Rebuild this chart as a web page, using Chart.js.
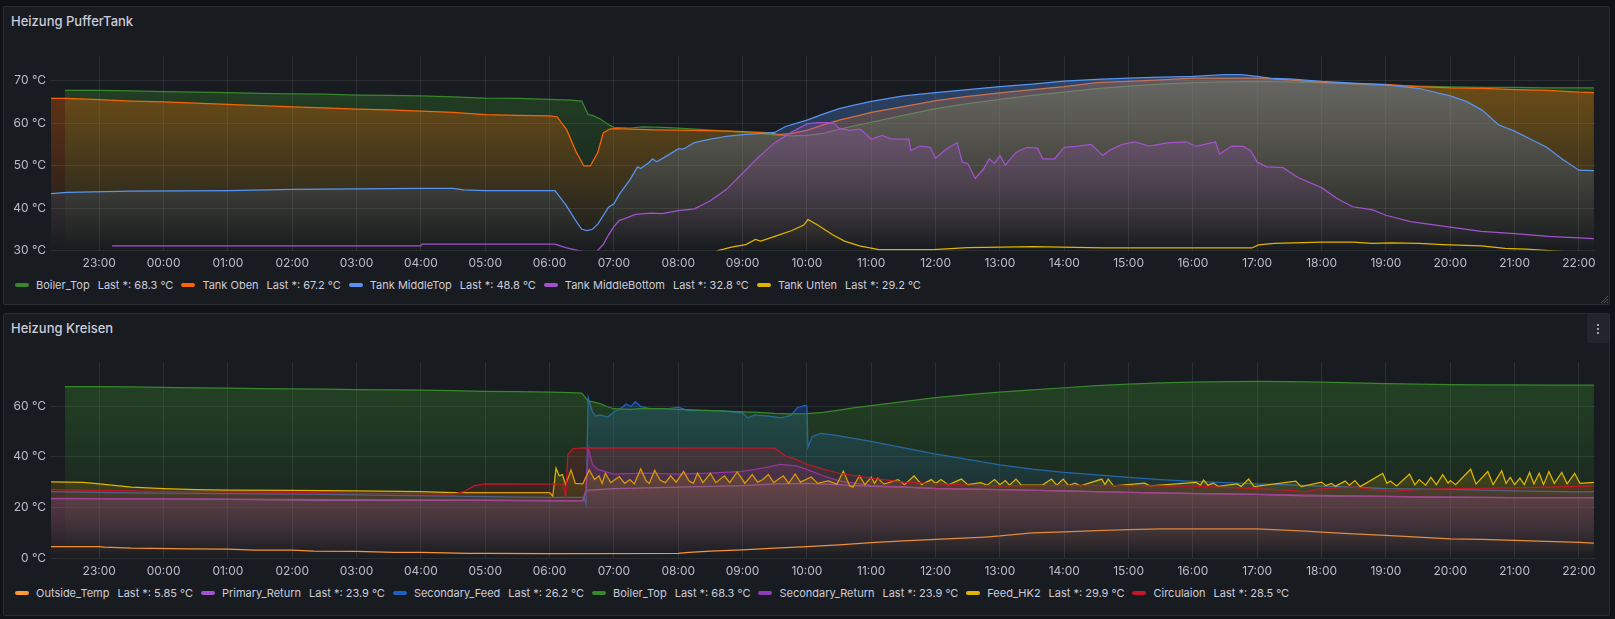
<!DOCTYPE html>
<html>
<head>
<meta charset="utf-8">
<title>Heizung</title>
<script src="https://cdn.jsdelivr.net/npm/chart.js@4.4.1/dist/chart.umd.min.js"></script>
<style>
  html, body { margin: 0; padding: 0; }
  body { width: 1615px; height: 619px; background: #111217; font-family: Inter, "Noto Sans", sans-serif; color: #ccccdc; position: relative; overflow: hidden; }
  .panel { position: absolute; left: 3px; width: 1605px; background: #181b1f; border: 1px solid #2a2c31; border-radius: 2px; }
  #panel1 { top: 6px; height: 297px; }
  #panel2 { top: 313px; height: 301px; }
  .title { position: absolute; left: 7px; top: 2px; font-size: 13px; font-weight: 500; line-height: 24px; }
  canvas { position: absolute; left: 3px; }
  #puffer { top: 44px; }
  #kreisen { top: 350px; }
  .legend { position: absolute; left: 15px; height: 16px; display: flex; align-items: center; font-size: 11px; white-space: nowrap; }
  #legend1 { top: 277px; }
  #legend2 { top: 585px; }
  .item { display: flex; align-items: center; margin-right: 8px; }
  .swatch { width: 14px; height: 4px; border-radius: 2px; margin-right: 7px; }
  .stat { margin-left: 8px; }
  #menu { position: absolute; left: 1587px; top: 314px; width: 22px; height: 29px; background: #22252b; border-radius: 2px; }
  #menu i { position: absolute; left: 10px; width: 2px; height: 2px; background: #9fa1a8; }
</style>
</head>
<body>
<div class="panel" id="panel1"><div class="title">Heizung PufferTank</div></div>
<div class="panel" id="panel2"><div class="title">Heizung Kreisen</div></div>
<canvas id="puffer" width="1607" height="231"></canvas>
<canvas id="kreisen" width="1607" height="233"></canvas>
<div class="legend" id="legend1"></div>
<div class="legend" id="legend2"></div>
<div id="menu"><i style="top:10px"></i><i style="top:14px"></i><i style="top:18px"></i></div>
<svg style="position:absolute;left:1599px;top:294px" width="10" height="10"><path d="M9 2 L2 9 M9 5 L5 9 M9 8 L8 9" stroke="#54575e" stroke-width="1"/></svg>
<script>
// time axis: 22:15 today .. 22:15 tomorrow, in hours
const X_MIN = 22.25;
const X_MAX = 46.25;
const hourTicks = [23, 24, 25, 26, 27, 28, 29, 30, 31, 32, 33, 34, 35, 36, 37, 38, 39, 40, 41, 42, 43, 44, 45, 46];
const hourLabels = ['23:00', '00:00', '01:00', '02:00', '03:00', '04:00', '05:00', '06:00', '07:00', '08:00', '09:00', '10:00',
  '11:00', '12:00', '13:00', '14:00', '15:00', '16:00', '17:00', '18:00', '19:00', '20:00', '21:00', '22:00'];
const pufferTicks = [30, 40, 50, 60, 70];
const kreisenTicks = [0, 20, 40, 60];

// series as [time, °C]
const boilerTop = [['22:28', 67.7], ['23:00', 67.7], ['23:30', 67.6], ['00:00', 67.4], ['00:30', 67.3], ['01:00', 67.2], ['01:30', 67.0],
  ['02:00', 66.9], ['02:30', 66.8], ['03:00', 66.6], ['03:30', 66.5], ['04:00', 66.4], ['04:30', 66.2], ['05:00', 65.9], ['05:30', 65.8],
  ['06:00', 65.6], ['06:20', 65.4], ['06:30', 65.2], ['06:36', 62.0], ['06:40', 61.8], ['06:47', 61.0], ['06:54', 59.8], ['07:00', 59.0],
  ['07:15', 58.8], ['07:27', 59.1], ['07:45', 59.0], ['08:00', 58.8], ['08:20', 58.5], ['08:45', 58.1], ['09:00', 57.8], ['09:15', 57.6],
  ['09:30', 57.2], ['09:45', 57.0], ['10:00', 57.1], ['10:15', 57.6], ['10:30', 58.5], ['10:45', 59.4], ['11:00', 60.2], ['11:30', 61.8],
  ['12:00', 63.4], ['12:30', 64.6], ['13:00', 65.6], ['13:30', 66.5], ['14:00', 67.3], ['14:30', 68.1], ['15:00', 68.7], ['15:30', 69.2],
  ['16:00', 69.5], ['16:30', 69.7], ['17:00', 69.8], ['17:30', 69.7], ['18:00', 69.5], ['18:30', 69.2], ['19:00', 68.9], ['19:30', 68.7],
  ['20:00', 68.5], ['20:30', 68.4], ['21:00', 68.4], ['21:30', 68.3], ['22:00', 68.3], ['22:14', 68.3]];

const tankOben = [['22:15', 65.8], ['22:30', 65.8], ['23:00', 65.5], ['23:30', 65.2], ['00:00', 65.0], ['00:30', 64.7], ['01:00', 64.4],
  ['01:30', 64.1], ['02:00', 63.8], ['02:30', 63.6], ['03:00', 63.3], ['03:30', 63.1], ['04:00', 62.8], ['04:30', 62.5], ['05:00', 62.0],
  ['05:30', 61.8], ['06:00', 61.7], ['06:07', 61.5], ['06:16', 58.4], ['06:25', 53.1], ['06:32', 49.9], ['06:38', 49.9], ['06:45', 53.1],
  ['06:50', 57.7], ['06:56', 58.6], ['07:01', 58.7], ['07:38', 58.4], ['08:14', 58.3], ['08:50', 58.1], ['09:26', 57.7], ['09:33', 57.3],
  ['09:45', 57.5], ['10:00', 58.3], ['10:15', 59.6], ['10:30', 60.7], ['10:45', 61.6], ['11:00', 62.5], ['11:30', 63.9], ['12:00', 65.3],
  ['12:30', 66.3], ['13:00', 67.1], ['13:30', 67.9], ['14:00', 68.6], ['14:30', 69.5], ['15:00', 69.8], ['15:30', 70.2], ['16:00', 70.6],
  ['16:30', 70.6], ['17:00', 70.6], ['17:30', 70.2], ['18:00', 69.6], ['18:30', 69.3], ['19:00', 69.1], ['19:30', 68.6], ['20:00', 68.3],
  ['20:30', 68.2], ['21:00', 67.9], ['21:30', 67.7], ['22:00', 67.3], ['22:14', 67.2]];

const tankMiddleTop = [['22:15', 43.4], ['22:30', 43.7], ['23:30', 44.0], ['01:00', 44.1], ['02:00', 44.4], ['04:00', 44.6], ['04:30', 44.6],
  ['04:40', 44.3], ['05:00', 44.1], ['06:05', 44.1], ['06:15', 40.8], ['06:25', 36.8], ['06:30', 35.0], ['06:35', 34.7], ['06:40', 35.0],
  ['06:45', 36.2], ['06:55', 40.2], ['07:00', 41.0], ['07:05', 43.2], ['07:15', 46.7], ['07:22', 49.7], ['07:25', 49.3], ['07:33', 50.8],
  ['07:36', 51.6], ['07:40', 50.9], ['07:50', 52.4], ['08:00', 53.9], ['08:05', 53.9], ['08:15', 55.4], ['08:30', 56.2], ['08:45', 56.9],
  ['09:00', 57.3], ['09:15', 57.5], ['09:30', 57.8], ['09:40', 59.2], ['10:00', 60.7], ['10:15', 62.1], ['10:30', 63.4], ['10:45', 64.3],
  ['11:00', 65.1], ['11:30', 66.4], ['12:00', 67.2], ['12:30', 67.9], ['13:00', 68.6], ['13:30', 69.2], ['14:00', 69.9], ['14:30', 70.3],
  ['15:00', 70.6], ['15:30', 70.8], ['16:00', 71.0], ['16:30', 71.4], ['16:45', 71.4], ['17:00', 71.0], ['17:15', 70.5], ['17:30', 70.4],
  ['18:00', 69.8], ['18:30', 69.4], ['19:00', 69.0], ['19:30', 68.2], ['20:00', 66.4], ['20:15', 65.1], ['20:30', 63.0], ['20:45', 59.6],
  ['21:00', 58.1], ['21:15', 56.2], ['21:30', 54.3], ['21:45', 51.4], ['22:00', 48.9], ['22:14', 48.8]];

const tankMiddleBottom = [['23:12', 31.1], ['04:00', 31.1], ['04:01', 31.5], ['06:05', 31.5], ['06:15', 30.7], ['06:25', 30.1],
  ['06:32', 29.7], ['06:44', 29.8], ['06:50', 31.4], ['06:55', 33.7], ['07:00', 35.6], ['07:05', 37.1], ['07:10', 37.5], ['07:20', 38.5],
  ['07:35', 38.8], ['07:45', 38.7], ['08:00', 39.4], ['08:15', 39.8], ['08:30', 41.7], ['08:45', 44.4], ['09:00', 48.2], ['09:15', 52.0],
  ['09:30', 55.4], ['09:45', 57.8], ['10:00', 59.8], ['10:10', 60.1], ['10:20', 60.1], ['10:25', 60.0], ['10:30', 58.8], ['10:40', 58.3],
  ['10:50', 58.6], ['11:00', 56.2], ['11:10', 57.1], ['11:20', 56.2], ['11:35', 56.2], ['11:37', 53.5], ['11:45', 54.6], ['11:55', 54.3],
  ['12:00', 51.7], ['12:10', 53.9], ['12:20', 55.4], ['12:25', 50.8], ['12:30', 50.5], ['12:37', 47.0], ['12:45', 49.3], ['12:50', 51.6],
  ['12:55', 50.5], ['13:00', 52.4], ['13:05', 50.1], ['13:15', 53.1], ['13:25', 54.3], ['13:35', 54.1], ['13:40', 51.6], ['13:51', 51.6],
  ['14:00', 54.3], ['14:13', 54.6], ['14:25', 55.0], ['14:36', 52.4], ['14:43', 53.7], ['14:54', 55.0], ['15:06', 55.6], ['15:19', 54.6],
  ['15:38', 55.4], ['15:54', 55.6], ['16:03', 54.5], ['16:21', 55.6], ['16:25', 52.7], ['16:36', 54.6], ['16:47', 54.5], ['16:54', 53.5],
  ['17:00', 50.8], ['17:09', 49.7], ['17:24', 49.5], ['17:38', 47.2], ['18:00', 44.8], ['18:14', 42.3], ['18:29', 40.3], ['18:47', 39.6],
  ['19:00', 38.3], ['19:23', 36.8], ['20:00', 35.5], ['20:29', 34.5], ['21:00', 34.0], ['21:32', 33.3], ['22:00', 33.0], ['22:14', 32.8]];

const tankUnten = [['22:15', 28.0], ['08:30', 28.5], ['08:37', 30.0], ['08:45', 30.5], ['08:52', 30.9], ['09:03', 31.4], ['09:12', 32.6],
  ['09:17', 32.2], ['09:32', 33.5], ['09:46', 34.7], ['09:57', 36.0], ['10:01', 37.3], ['10:10', 36.0], ['10:24', 33.7], ['10:35', 32.2],
  ['10:49', 31.1], ['11:07', 30.2], ['11:58', 30.2], ['12:30', 30.7], ['13:31', 30.9], ['14:37', 30.6], ['16:55', 30.6], ['17:01', 31.3],
  ['17:16', 31.7], ['18:00', 32.0], ['18:29', 32.0], ['18:47', 31.7], ['19:05', 31.8], ['19:31', 31.7], ['19:53', 31.4], ['20:29', 31.1],
  ['20:51', 30.5], ['21:11', 30.3], ['21:32', 30.0], ['22:14', 29.2]];

const outsideTemp = [['22:15', 4.5], ['23:00', 4.5], ['23:05', 4.3], ['23:30', 3.9], ['00:25', 3.6], ['01:00', 3.5], ['01:25', 3.1],
  ['02:00', 3.1], ['02:20', 2.7], ['03:00', 2.6], ['03:35', 2.2], ['04:00', 2.2], ['04:45', 1.8], ['05:00', 1.8], ['06:00', 1.7],
  ['08:00', 1.8], ['08:10', 2.2], ['08:30', 2.7], ['09:00', 3.2], ['09:30', 3.9], ['10:00', 4.5], ['10:30', 5.2], ['11:00', 6.1],
  ['11:30', 6.8], ['12:00', 7.4], ['12:46', 8.3], ['13:00', 8.7], ['13:15', 9.3], ['13:30', 9.9], ['14:00', 10.3], ['14:30', 10.8],
  ['15:00', 11.2], ['15:30', 11.5], ['17:00', 11.5], ['17:15', 11.2], ['17:45', 10.6], ['18:00', 10.2], ['18:30', 9.5], ['19:00', 8.9],
  ['19:30', 8.3], ['20:00', 7.6], ['20:30', 7.4], ['21:00', 7.0], ['21:30', 6.6], ['22:00', 6.2], ['22:14', 5.85]];

const primaryReturn = [['22:15', 23.5], ['00:00', 23.4], ['01:00', 23.2], ['02:30', 22.8], ['05:00', 22.8], ['06:00', 22.6], ['06:31', 22.6],
  ['06:34', 26.7], ['07:00', 27.4], ['08:00', 28.0], ['09:00', 28.6], ['09:30', 29.3], ['10:00', 29.5], ['10:30', 29.0], ['11:00', 28.3],
  ['11:30', 28.0], ['12:00', 27.4], ['13:00', 27.0], ['14:00', 26.5], ['15:00', 25.9], ['16:00', 25.4], ['17:00', 25.2], ['17:45', 24.6],
  ['19:00', 24.4], ['19:30', 24.1], ['21:00', 23.9], ['22:14', 23.9]];

const secondaryFeed = [['22:15', 26.2], ['23:30', 25.7], ['01:30', 25.3], ['02:30', 25.2], ['03:30', 24.8], ['04:30', 24.5], ['05:30', 24.1],
  ['06:00', 24.0], ['06:32', 24.0], ['06:34', 21.2], ['06:36', 63.5], ['06:40', 57.7], ['06:43', 56.1], ['06:47', 56.6], ['06:54', 55.7],
  ['07:00', 57.7], ['07:08', 59.6], ['07:11', 60.9], ['07:16', 59.9], ['07:20', 61.8], ['07:25', 59.9], ['07:34', 59.0], ['07:50', 59.0],
  ['08:00', 59.6], ['08:09', 58.3], ['08:40', 58.3], ['08:52', 57.7], ['09:00', 57.4], ['09:05', 55.4], ['09:11', 56.6], ['09:24', 56.1],
  ['09:36', 55.4], ['09:45', 56.4], ['09:51', 59.4], ['09:58', 60.3], ['10:00', 60.0], ['10:01', 43.7], ['10:05', 48.0], ['10:13', 49.3],
  ['10:26', 48.6], ['10:57', 46.3], ['11:28', 43.7], ['11:59', 41.2], ['12:30', 39.0], ['13:00', 36.8], ['13:30', 35.1], ['14:00', 33.8],
  ['14:30', 32.9], ['15:00', 31.9], ['15:30', 31.0], ['16:00', 30.3], ['16:30', 29.8], ['17:00', 29.3], ['17:30', 28.9], ['18:00', 28.4],
  ['18:30', 28.0], ['19:00', 27.4], ['20:00', 27.1], ['21:00', 26.5], ['22:00', 26.1], ['22:14', 26.2]];

const secondaryReturn = [['22:15', 23.6], ['01:00', 23.3], ['05:00', 22.9], ['06:31', 22.7], ['06:34', 27.0], ['06:36', 43.5], ['06:40', 37.0],
  ['06:45', 35.0], ['07:00', 33.2], ['07:30', 33.6], ['08:00', 33.2], ['08:30', 33.6], ['09:00', 34.2], ['09:20', 35.6], ['09:35', 37.0],
  ['09:50', 36.4], ['10:00', 35.0], ['10:15', 32.5], ['10:30', 30.5], ['11:00', 28.6], ['11:30', 28.1], ['12:00', 27.5], ['13:00', 27.0],
  ['15:00', 25.9], ['17:00', 25.2], ['19:00', 24.4], ['21:00', 23.9], ['22:14', 23.9]];

const feedHK2 = [['22:15', 30.1], ['22:45', 29.9], ['23:00', 29.3], ['23:30', 28.0], ['00:00', 27.4], ['00:30', 27.0], ['01:00', 26.8],
  ['02:00', 26.7], ['03:00', 26.5], ['04:00', 26.2], ['04:30', 25.8], ['06:00', 25.8], ['06:03', 24.5], ['06:06', 35.5], ['06:09', 32.5],
  ['06:12', 33.0], ['06:15', 29.0], ['06:20', 34.8], ['06:24', 29.5], ['06:31', 29.3], ['06:37', 34.8], ['06:42', 31.0], ['06:46', 32.5],
  ['06:49', 29.5], ['06:52', 33.5], ['06:57', 29.8], ['07:05', 32.2], ['07:10', 29.5], ['07:15', 31.0], ['07:19', 29.3], ['07:25', 35.3],
  ['07:30', 30.5], ['07:33', 29.5], ['07:38', 34.7], ['07:43', 30.8], ['07:48', 29.8], ['07:53', 32.5], ['07:58', 30.0], ['08:05', 34.2],
  ['08:10', 30.5], ['08:14', 29.5], ['08:18', 33.5], ['08:23', 29.8], ['08:30', 33.5], ['08:35', 29.8], ['08:43', 32.5], ['08:48', 29.8],
  ['08:55', 34.0], ['09:00', 31.0], ['09:02', 29.5], ['09:09', 33.0], ['09:14', 30.0], ['09:19', 31.0], ['09:24', 33.0], ['09:29', 29.8],
  ['09:33', 31.0], ['09:38', 32.5], ['09:43', 29.5], ['09:49', 33.2], ['09:54', 30.0], ['10:04', 32.0], ['10:10', 29.5], ['10:20', 30.5],
  ['10:28', 29.2], ['10:34', 34.3], ['10:40', 28.5], ['10:43', 28.0], ['10:49', 32.5], ['10:54', 29.0], ['11:00', 32.0], ['11:03', 29.5],
  ['11:06', 31.5], ['11:12', 29.2], ['11:25', 31.0], ['11:31', 29.0], ['11:40', 32.5], ['11:47', 29.0], ['11:56', 31.0], ['12:00', 29.5],
  ['12:05', 31.0], ['12:12', 28.9], ['12:24', 31.2], ['12:30', 29.0], ['12:42', 29.8], ['12:48', 28.8], ['12:55', 31.0], ['13:00', 29.0],
  ['13:05', 30.6], ['13:09', 28.8], ['13:15', 31.2], ['13:20', 28.8], ['13:40', 28.9], ['13:48', 31.2], ['13:53', 28.8], ['13:59', 31.2],
  ['14:04', 28.7], ['14:10', 29.6], ['14:15', 28.5], ['14:35', 31.2], ['14:38', 29.0], ['14:41', 31.2], ['14:46', 28.5], ['15:15', 29.6],
  ['15:20', 28.5], ['16:03', 29.9], ['16:07', 28.8], ['16:10', 30.8], ['16:14', 28.8], ['16:19', 29.6], ['16:24', 28.3], ['16:41', 29.3],
  ['16:45', 28.3], ['16:52', 31.2], ['16:57', 28.2], ['17:36', 30.4], ['17:41', 28.2], ['18:00', 30.0], ['18:04', 28.6], ['18:09', 29.5],
  ['18:13', 28.4], ['18:22', 30.4], ['18:26', 28.8], ['18:31', 30.6], ['18:36', 28.2], ['18:57', 33.4], ['19:01', 29.5], ['19:04', 30.4],
  ['19:10', 28.5], ['19:22', 33.2], ['19:27', 28.9], ['19:31', 31.0], ['19:37', 28.8], ['19:42', 31.9], ['19:47', 29.0], ['19:53', 32.9],
  ['19:58', 29.6], ['20:00', 30.6], ['20:05', 29.0], ['20:19', 35.1], ['20:24', 29.2], ['20:35', 34.2], ['20:40', 29.0], ['20:48', 34.5],
  ['20:52', 29.5], ['20:56', 31.9], ['21:00', 29.0], ['21:05', 31.6], ['21:09', 29.0], ['21:14', 33.8], ['21:18', 29.3], ['21:23', 33.5],
  ['21:27', 29.0], ['21:32', 34.2], ['21:37', 29.5], ['21:44', 33.8], ['21:49', 29.3], ['21:56', 33.4], ['22:01', 29.5], ['22:14', 29.9]];

const circulaion = [['22:15', 27.0], ['23:00', 26.7], ['00:00', 26.3], ['01:00', 26.1], ['02:00', 25.9], ['03:00', 25.5], ['04:30', 25.3],
  ['04:40', 26.2], ['04:50', 28.6], ['05:00', 29.3], ['06:10', 29.2], ['06:13', 29.0], ['06:15', 24.0], ['06:17', 40.9], ['06:22', 43.2],
  ['06:30', 43.5], ['09:30', 43.4], ['09:40', 40.3], ['09:50', 39.0], ['10:00', 37.0], ['10:15', 35.1], ['10:30', 33.5], ['11:00', 31.6],
  ['11:30', 30.0], ['12:00', 29.4], ['12:30', 28.8], ['13:00', 28.5], ['14:00', 28.7], ['15:00', 28.6], ['16:00', 28.4], ['17:00', 27.4],
  ['17:30', 26.7], ['17:45', 26.1], ['18:00', 27.4], ['18:30', 28.0], ['19:00', 26.5], ['19:05', 26.3], ['19:30', 27.0], ['20:00', 27.4],
  ['21:00', 27.7], ['22:00', 28.3], ['22:14', 28.5]];

const pufferNames = ['Boiler_Top', 'Tank Oben', 'Tank MiddleTop', 'Tank MiddleBottom', 'Tank Unten'];
const pufferLast = ['68.3', '67.2', '48.8', '32.8', '29.2'];
const pufferColors = ['#37872D', '#FA6400', '#5794F2', '#A352CC', '#E0B400'];

const kreisenNames = ['Outside_Temp', 'Primary_Return', 'Secondary_Feed', 'Boiler_Top', 'Secondary_Return', 'Feed_HK2', 'Circulaion'];
const kreisenLast = ['5.85', '23.9', '26.2', '68.3', '23.9', '29.9', '28.5'];
const kreisenColors = ['#FF9830', '#A352CC', '#1F60C4', '#37872D', '#8F3BB8', '#E0B400', '#C4162A'];

const GRID = 'rgba(240, 250, 255, 0.09)';
const TEXT = 'rgba(204, 204, 220, 0.9)';
const FILL_TOP = 0.4;

function toHours(hhmm) {
  const [h, m] = hhmm.split(':').map(Number);
  let t = h + m / 60;
  if (t < X_MIN) t += 24;
  return t;
}

function rgba(hex, a) {
  const n = parseInt(hex.slice(1), 16);
  return 'rgba(' + (n >> 16) + ',' + ((n >> 8) & 255) + ',' + (n & 255) + ',' + a + ')';
}

function makeDataset(label, color, series, i) {
  return {
    label: label,
    data: series.map(p => ({ x: toHours(p[0]), y: p[1] })),
    borderColor: color,
    borderWidth: 1.25,
    pointRadius: 0,
    tension: 0,
    order: -i,
    fill: 'origin',
    backgroundColor: function (ctx) {
      const area = ctx.chart.chartArea;
      if (!area) return 'transparent';
      const g = ctx.chart.ctx.createLinearGradient(0, area.top, 0, area.bottom);
      g.addColorStop(0, rgba(color, FILL_TOP));
      g.addColorStop(1, rgba(color, 0));
      return g;
    }
  };
}

function buildChart(id, datasets, yMin, yMax, yTicks, padTop, xHeight) {
  const font = { family: 'Inter', size: 12 };
  return new Chart(document.getElementById(id), {
    type: 'line',
    data: { datasets: datasets },
    options: {
      animation: false,
      responsive: false,
      devicePixelRatio: 1,
      layout: { padding: { top: padTop, right: 15, left: 0, bottom: 0 } },
      plugins: { legend: { display: false }, tooltip: { enabled: false } },
      scales: {
        x: {
          type: 'linear',
          min: X_MIN,
          max: X_MAX,
          afterBuildTicks: axis => { axis.ticks = hourTicks.map(v => ({ value: v })); },
          afterFit: axis => { axis.height = xHeight; },
          ticks: { autoSkip: false, maxRotation: 0, padding: 6, color: TEXT, font: font, callback: (v, i) => hourLabels[i] },
          grid: { color: GRID, drawTicks: false },
          border: { display: false }
        },
        y: {
          min: yMin,
          max: yMax,
          afterBuildTicks: axis => { axis.ticks = yTicks.map(v => ({ value: v })); },
          afterFit: axis => { axis.width = 48; },
          ticks: { padding: 5, color: TEXT, font: font, callback: v => v + ' °C' },
          grid: { color: GRID, drawTicks: false },
          border: { display: false }
        }
      }
    }
  });
}

function fillLegend(id, names, last, colors) {
  const box = document.getElementById(id);
  names.forEach((name, i) => {
    const item = document.createElement('div');
    item.className = 'item';
    item.innerHTML = '<span class="swatch" style="background:' + colors[i] + '"></span><span>' + name +
      '</span><span class="stat">Last *: ' + last[i] + ' °C</span>';
    box.appendChild(item);
  });
}

const pufferSeries = [boilerTop, tankOben, tankMiddleTop, tankMiddleBottom, tankUnten];
const kreisenSeries = [outsideTemp, primaryReturn, secondaryFeed, boilerTop, secondaryReturn, feedHK2, circulaion];

buildChart('puffer', pufferSeries.map((s, i) => makeDataset(pufferNames[i], pufferColors[i], s, i)), 30, 75.75, pufferTicks, 7.5, 24.5);
buildChart('kreisen', kreisenSeries.map((s, i) => makeDataset(kreisenNames[i], kreisenColors[i], s, i)), 0, 77.4, kreisenTicks, 8, 25);

fillLegend('legend1', pufferNames, pufferLast, pufferColors);
fillLegend('legend2', kreisenNames, kreisenLast, kreisenColors);
</script>
</body>
</html>
